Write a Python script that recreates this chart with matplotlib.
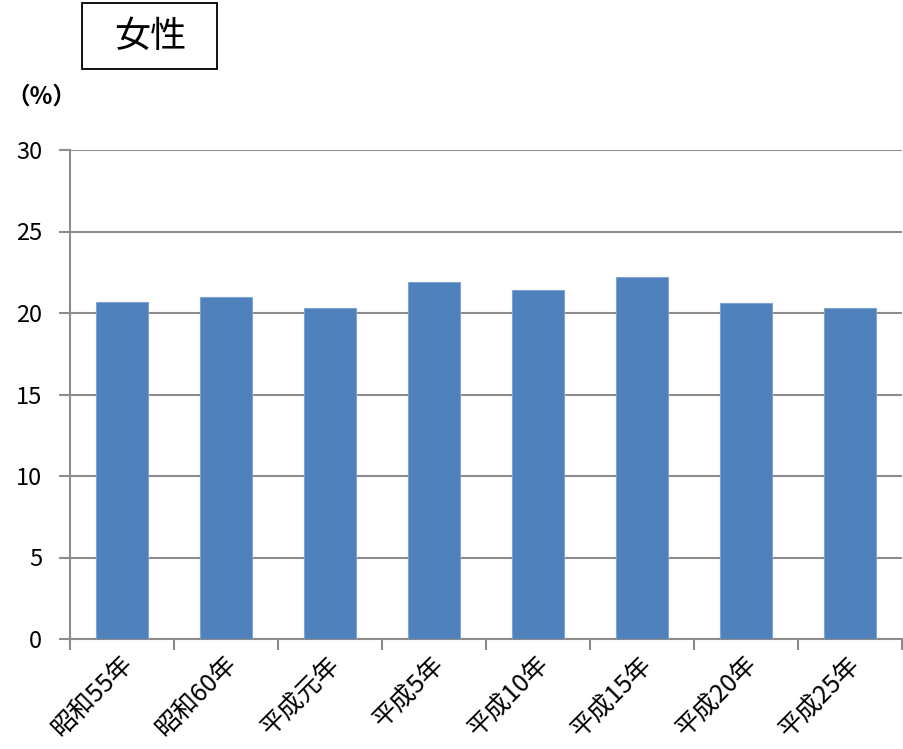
import matplotlib
matplotlib.use("Agg")
import matplotlib.pyplot as plt
from matplotlib.patches import Rectangle
import numpy as np

plt.rcParams['font.family'] = ['Noto Sans CJK JP', 'DejaVu Sans']

# 女性の割合（%）
categories = ['昭和55年', '昭和60年', '平成元年', '平成5年',
              '平成10年', '平成15年', '平成20年', '平成25年']
values = [20.7, 21.0, 20.3, 21.9, 21.4, 22.2, 20.6, 20.3]
yticks = [0, 5, 10, 15, 20, 25, 30]

grid_color = '#8c8c8c'
W, H = 904, 749

fig = plt.figure(figsize=(W / 100, H / 100), dpi=100)
ax = fig.add_axes([70 / W, 110 / H, 832 / W, 489 / H])

x = np.arange(len(categories))
ax.bar(x, values, width=0.5, color='#4F81BD', edgecolor='#7fa3d3',
       linewidth=0.8, zorder=3)

ax.set_xlim(-0.5, len(categories) - 0.5)
ax.set_ylim(0, 30)
ax.set_yticks(yticks)
ax.set_yticklabels([str(v) for v in yticks], fontsize=17)
ax.yaxis.grid(True, color=grid_color, linewidth=1.5, zorder=0)
ax.tick_params(axis='y', length=8, width=1.5, color=grid_color, pad=12)

# x ticks sit on category boundaries, labels at the centres
ax.set_xticks(np.arange(len(categories) + 1) - 0.5)
ax.set_xticklabels([])
ax.tick_params(axis='x', length=8, width=1.5, color=grid_color)
for xi, lab in zip(x, categories):
    ax.text(xi + 0.06, -1.3, lab, rotation=45, rotation_mode='anchor',
            ha='right', va='center', fontsize=18)

for side in ['top', 'right']:
    ax.spines[side].set_visible(False)
ax.spines['left'].set_color(grid_color)
ax.spines['left'].set_linewidth(1.5)
ax.spines['bottom'].set_color(grid_color)
ax.spines['bottom'].set_linewidth(1.5)

# framed heading
fig.patches.append(Rectangle((82 / W, 1 - 69 / H), 135 / W, 66 / H,
                             transform=fig.transFigure, facecolor='white',
                             edgecolor='black', linewidth=1.3))
fig.text(150 / W, 1 - 37 / H, '女性', ha='center', va='center', fontsize=26)
fig.text(41 / W, 1 - 97 / H, '（%）', ha='center', va='center', fontsize=17,
         fontweight='bold')

fig.savefig('out.png', dpi=100)
